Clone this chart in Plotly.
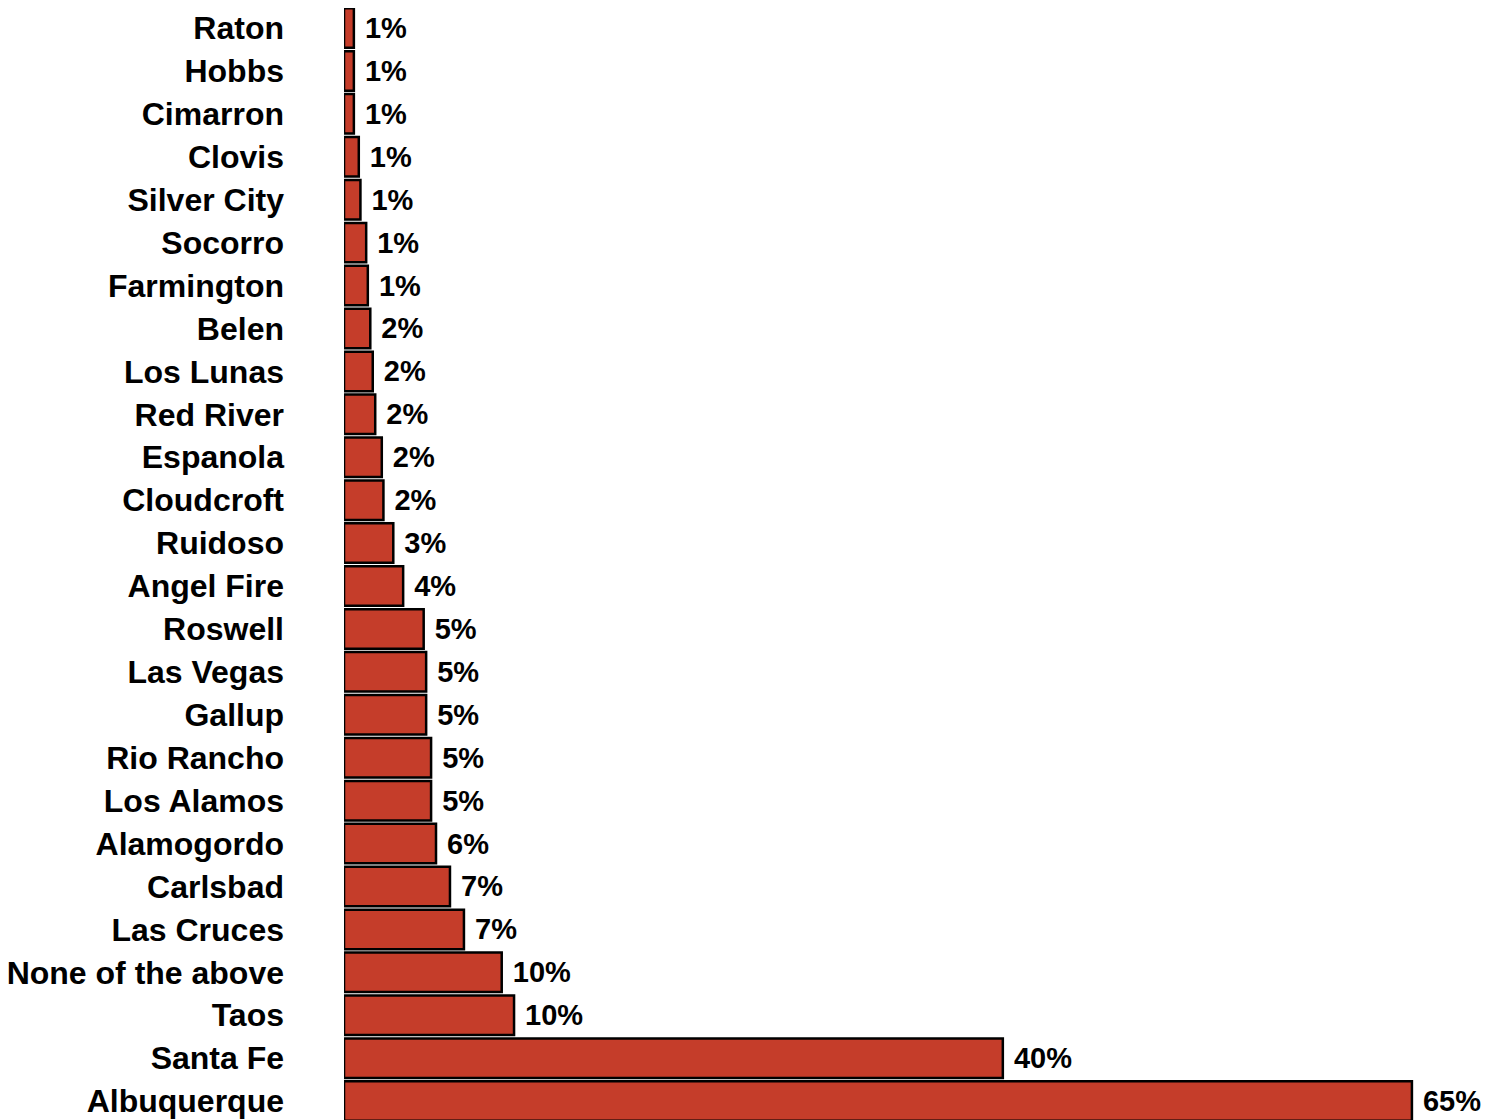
import plotly.graph_objects as go

categories = ["Raton", "Hobbs", "Cimarron", "Clovis", "Silver City", "Socorro",
              "Farmington", "Belen", "Los Lunas", "Red River", "Espanola", "Cloudcroft",
              "Ruidoso", "Angel Fire", "Roswell", "Las Vegas", "Gallup", "Rio Rancho",
              "Los Alamos", "Alamogordo", "Carlsbad", "Las Cruces", "None of the above",
              "Taos", "Santa Fe", "Albuquerque"]
values = [0.6, 0.6, 0.6, 0.9, 1.0, 1.35, 1.45, 1.6, 1.75, 1.9, 2.3, 2.4, 3.0, 3.6,
          4.85, 5.0, 5.0, 5.3, 5.3, 5.6, 6.45, 7.3, 9.6, 10.35, 40.1, 65.0]
labels = ["1%", "1%", "1%", "1%", "1%", "1%", "1%", "2%", "2%", "2%", "2%", "2%",
          "3%", "4%", "5%", "5%", "5%", "5%", "5%", "6%", "7%", "7%", "10%", "10%",
          "40%", "65%"]

fig = go.Figure(go.Bar(
    x=values,
    y=categories,
    orientation="h",
    text=[" " + t for t in labels],
    textposition="outside",
    cliponaxis=False,
    textfont=dict(family="Liberation Sans", size=29, color="black", weight="bold"),
    marker=dict(color="#C53D2A", line=dict(color="black", width=2.5)),
))

fig.update_layout(
    width=1491, height=1112,
    margin=dict(l=336, r=0, t=0, b=0),
    paper_bgcolor="white", plot_bgcolor="white",
    bargap=0.08,
    showlegend=False,
    font=dict(family="Liberation Sans", color="black"),
)
fig.update_xaxes(visible=False, range=[0, 70.3])
fig.update_yaxes(
    type="category",
    range=[25.44, -0.466],
    showgrid=False, zeroline=False, showline=False, ticks="",
    tickfont=dict(family="Liberation Sans", size=32, color="black", weight="bold"),
    ticklabelstandoff=59,
)

fig.write_html("out.html")
